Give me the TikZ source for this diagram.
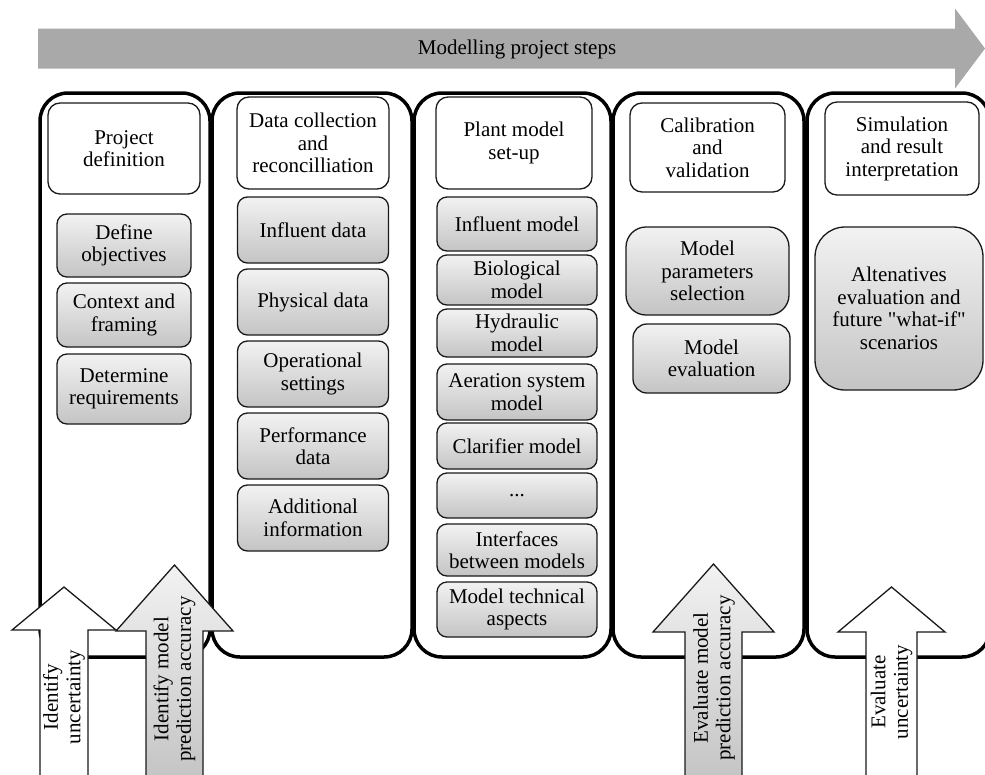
\documentclass[tikz,border=0pt]{standalone}
\usepackage{fontspec}
\setmainfont{Liberation Serif}
\definecolor{gtop}{HTML}{F2F2F2}
\definecolor{gbot}{HTML}{C4C4C4}
\definecolor{bararrow}{HTML}{A9A9A9}
\definecolor{edge}{HTML}{1A1A1A}
\begin{document}
\begin{tikzpicture}[x=1pt,y=-1pt,
  every node/.style={font=\fontsize{21}{22.5}\selectfont, align=center, inner sep=0pt},
  panel/.style={draw=black, line width=3.5pt, rounded corners=28pt, fill=white},
  headbox/.style={draw=edge, line width=1.3pt, rounded corners=12pt, fill=white},
  graybox/.style={draw=edge, line width=1.3pt, rounded corners=10pt, top color=gtop, bottom color=gbot},
  whitearrow/.style={draw=edge, line width=1.3pt, fill=white, line join=miter},
  grayarrow/.style={draw=edge, line width=1.3pt, top color=gtop, bottom color=gbot, line join=miter}
]
\useasboundingbox (0,0) rectangle (985,774);
\clip (0,0) rectangle (985,774);

% top arrow
\fill[bararrow] (38,28.5) -- (955,28.5) -- (955,8.5) -- (985,48.5) -- (955,88.5) -- (955,68.5) -- (38,68.5) -- cycle;
\node (title) at (517,49.5) {Modelling project steps};

% panels
\draw[panel] (40,93) rectangle (210,657);
\draw[panel] (212,93) rectangle (412,657);
\draw[panel] (414,93) rectangle (611,657);
\draw[panel] (613,93) rectangle (804,657);
\draw[panel] (807,93) rectangle (990,657);

% panel 1
\node[headbox, minimum width=152pt, minimum height=91pt] (h1) at (124,148.5) {Project\\definition};
\node[graybox, minimum width=134pt, minimum height=63pt] (defobj) at (124,245.5) {Define\\objectives};
\node[graybox, minimum width=134pt, minimum height=64pt] (context) at (124,315) {Context and\\framing};
\node[graybox, minimum width=134pt, minimum height=70pt] (determ) at (124,389) {Determine\\requirements};

% panel 2
\node[headbox, minimum width=152pt, minimum height=92pt] (h2) at (313,143) {Data collection\\and\\reconcilliation};
\node[graybox, minimum width=151pt, minimum height=66pt] (infdata) at (313,230) {Influent data};
\node[graybox, minimum width=151pt, minimum height=66pt] (physdata) at (313,302) {Physical data};
\node[graybox, minimum width=151pt, minimum height=66pt] (opset) at (313,374) {Operational\\settings};
\node[graybox, minimum width=151pt, minimum height=66pt] (perf) at (313,446) {Performance\\data};
\node[graybox, minimum width=151pt, minimum height=66pt] (addinfo) at (313,518) {Additional\\information};

% panel 3
\node[headbox, minimum width=156pt, minimum height=92pt] (h3) at (514,143) {Plant model\\set-up};
\node[graybox, minimum width=160pt, minimum height=54pt] (infmodel) at (517,224) {Influent model};
\node[graybox, minimum width=160pt, minimum height=50pt] (bio) at (517,280) {Biological\\model};
\node[graybox, minimum width=160pt, minimum height=48pt] (hyd) at (517,333) {Hydraulic\\model};
\node[graybox, minimum width=160pt, minimum height=56pt] (aer) at (517,392) {Aeration system\\model};
\node[graybox, minimum width=160pt, minimum height=46pt] (clar) at (517,446) {Clarifier model};
\node[graybox, minimum width=160pt, minimum height=45pt] (dots) at (517,495.5) {...};
\node[graybox, minimum width=160pt, minimum height=52pt] (interf) at (517,550) {Interfaces\\between models};
\node[graybox, minimum width=160pt, minimum height=55pt] (tech) at (517,609.5) {Model technical\\aspects};

% panel 4
\node[headbox, minimum width=155pt, minimum height=89pt] (h4) at (707.5,147.5) {Calibration\\and\\validation};
\node[graybox, rounded corners=20pt, minimum width=163pt, minimum height=88pt] (params) at (707.5,271) {Model\\parameters\\selection};
\node[graybox, rounded corners=14pt, minimum width=157pt, minimum height=69pt] (evalm) at (711.5,358.5) {Model\\evaluation};

% panel 5
\node[headbox, minimum width=154pt, minimum height=93pt] (h5) at (902,148.5) {Simulation\\and result\\interpretation};
\node[graybox, rounded corners=30pt, minimum width=168pt, minimum height=163pt] (altern) at (899,308.5) {Altenatives\\evaluation and\\future \textquotedbl what-if\textquotedbl\\scenarios};

% bottom arrows
\draw[whitearrow] (40,780) -- (40,630) -- (12,630) -- (64,587) -- (116,630) -- (88,630) -- (88,780) -- cycle;
\node[rotate=90] (idunc) at (64,697) {Identify\\uncertainty};
\draw[grayarrow] (146,780) -- (146,631) -- (116,631) -- (174.5,565) -- (233,631) -- (203,631) -- (203,780) -- cycle;
\node[rotate=90] (idacc) at (174.5,679) {Identify model\\prediction accuracy};
\draw[grayarrow] (685,780) -- (685,632) -- (653,632) -- (713.5,564) -- (774,632) -- (742,632) -- (742,780) -- cycle;
\node[rotate=90] (evacc) at (714,678) {Evaluate model\\prediction accuracy};
\draw[whitearrow] (866,780) -- (866,632) -- (838,632) -- (891.5,587) -- (945,632) -- (917,632) -- (917,780) -- cycle;
\node[rotate=90] (evunc) at (891.5,692) {Evaluate\\uncertainty};
\end{tikzpicture}
\end{document}
